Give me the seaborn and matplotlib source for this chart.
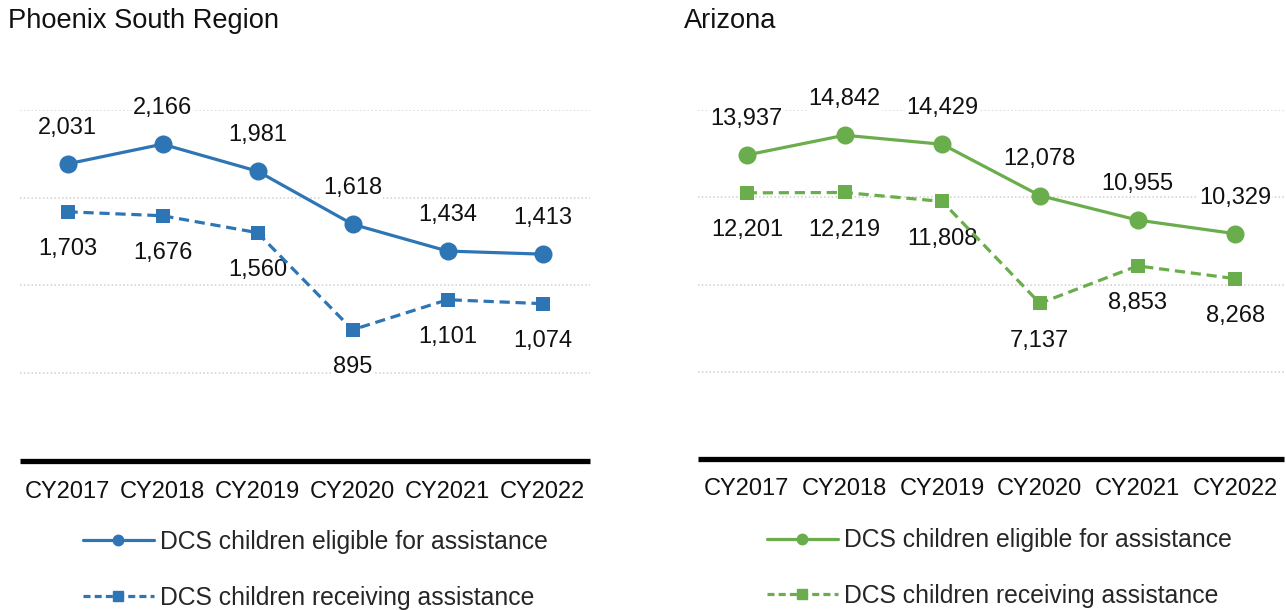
import numpy as np
import pandas as pd
import matplotlib
matplotlib.use("Agg")
import matplotlib.pyplot as plt
from matplotlib.lines import Line2D
import seaborn as sns

# ---- data -------------------------------------------------------------
years = ["CY2017", "CY2018", "CY2019", "CY2020", "CY2021", "CY2022"]

phx_eligible = [2031, 2166, 1981, 1618, 1434, 1413]
phx_receiving = [1703, 1676, 1560, 895, 1101, 1074]

az_eligible = [13937, 14842, 14429, 12078, 10955, 10329]
az_receiving = [12201, 12219, 11808, 7137, 8853, 8268]

series_names = ["DCS children eligible for assistance",
                "DCS children receiving assistance"]

# ---- style ------------------------------------------------------------
sns.set_theme(style="white")
plt.rcParams["font.family"] = ["Liberation Sans", "DejaVu Sans"]

BLUE = "#2E75B6"
GREEN = "#6AAD4C"
TEXT = "#111111"

fig = plt.figure(figsize=(12.86, 6.1), dpi=100)
W, H = 1286, 610


def px_axes(x0, x1, y_top, y_bot):
    return fig.add_axes([x0 / W, 1 - y_bot / H, (x1 - x0) / W, (y_bot - y_top) / H])


def draw_panel(ax, eligible, receiving, color, ymax, ystep, tick_pad):
    idx = np.arange(len(years))
    df = pd.DataFrame({"pos": idx, "eligible": eligible, "receiving": receiving})

    sns.lineplot(data=df, x="pos", y="eligible", ax=ax, color=color,
                 linewidth=2.3, marker="o", markersize=13, markeredgewidth=0,
                 clip_on=False, zorder=4)
    sns.lineplot(data=df, x="pos", y="receiving", ax=ax, color=color,
                 linewidth=2.3, linestyle=(0, (3.2, 1.8)), marker="s",
                 markersize=10, markeredgewidth=0, clip_on=False, zorder=4)

    ax.set_xlim(-0.5, len(years) - 0.5)
    ax.set_ylim(0, ymax)
    ax.set_yticks(np.arange(ystep, ymax + 1, ystep))
    ax.set_yticklabels([])
    ax.yaxis.grid(True, color="#CFCFCF", linestyle=(0, (1, 1.5)), linewidth=1.1)
    ax.xaxis.grid(False)
    ax.set_axisbelow(True)

    ax.set_xticks(idx)
    ax.set_xticklabels(years, fontsize=17, color=TEXT)
    ax.tick_params(axis="x", length=0, pad=tick_pad)
    ax.tick_params(axis="y", length=0)
    ax.set_xlabel("")
    ax.set_ylabel("")

    for side in ["top", "left", "right"]:
        ax.spines[side].set_visible(False)
    ax.spines["bottom"].set_color("black")
    ax.spines["bottom"].set_linewidth(3.8)
    ax.spines["bottom"].set_capstyle("butt")

    box = dict(boxstyle="square,pad=0.05", facecolor="white", edgecolor="none")
    for i, v in enumerate(eligible):
        ax.annotate(f"{v:,}", (i, v), xytext=(0, 26), textcoords="offset points",
                    ha="center", va="center", fontsize=17, color=TEXT,
                    bbox=box, zorder=3)
    for i, v in enumerate(receiving):
        ax.annotate(f"{v:,}", (i, v), xytext=(0, -27), textcoords="offset points",
                    ha="center", va="center", fontsize=17, color=TEXT,
                    bbox=box, zorder=3)

    handles = [
        Line2D([], [], color=color, linewidth=2.3, marker="o", markersize=7.5),
        Line2D([], [], color=color, linewidth=2.3, linestyle=(0, (2.2, 1.3)),
               marker="s", markersize=7.5),
    ]
    return handles


ax1 = px_axes(20, 590, 110, 460.5)
h1 = draw_panel(ax1, phx_eligible, phx_receiving, BLUE, 2400, 600, 14.5)

ax2 = px_axes(698, 1284, 110, 459)
h2 = draw_panel(ax2, az_eligible, az_receiving, GREEN, 16000, 4000, 13.5)

legend_kw = dict(loc="upper left", bbox_transform=fig.transFigure, frameon=False,
                 fontsize=17.8, handlelength=2.87, handletextpad=0.24,
                 borderpad=0, borderaxespad=0, numpoints=1)
ax1.legend(h1, series_names, bbox_to_anchor=(83 / W, 1 - 529.5 / H),
           labelspacing=1.3, **legend_kw)
ax2.legend(h2, series_names, bbox_to_anchor=(767 / W, 1 - 528.5 / H),
           labelspacing=1.26, **legend_kw)

fig.text(8 / W, 1 - 21 / H, "Phoenix South Region", ha="left", va="center",
         fontsize=19.6, color=TEXT)
fig.text(684 / W, 1 - 21 / H, "Arizona", ha="left", va="center",
         fontsize=19.6, color=TEXT)

fig.savefig("out.png", dpi=100, facecolor="white")
